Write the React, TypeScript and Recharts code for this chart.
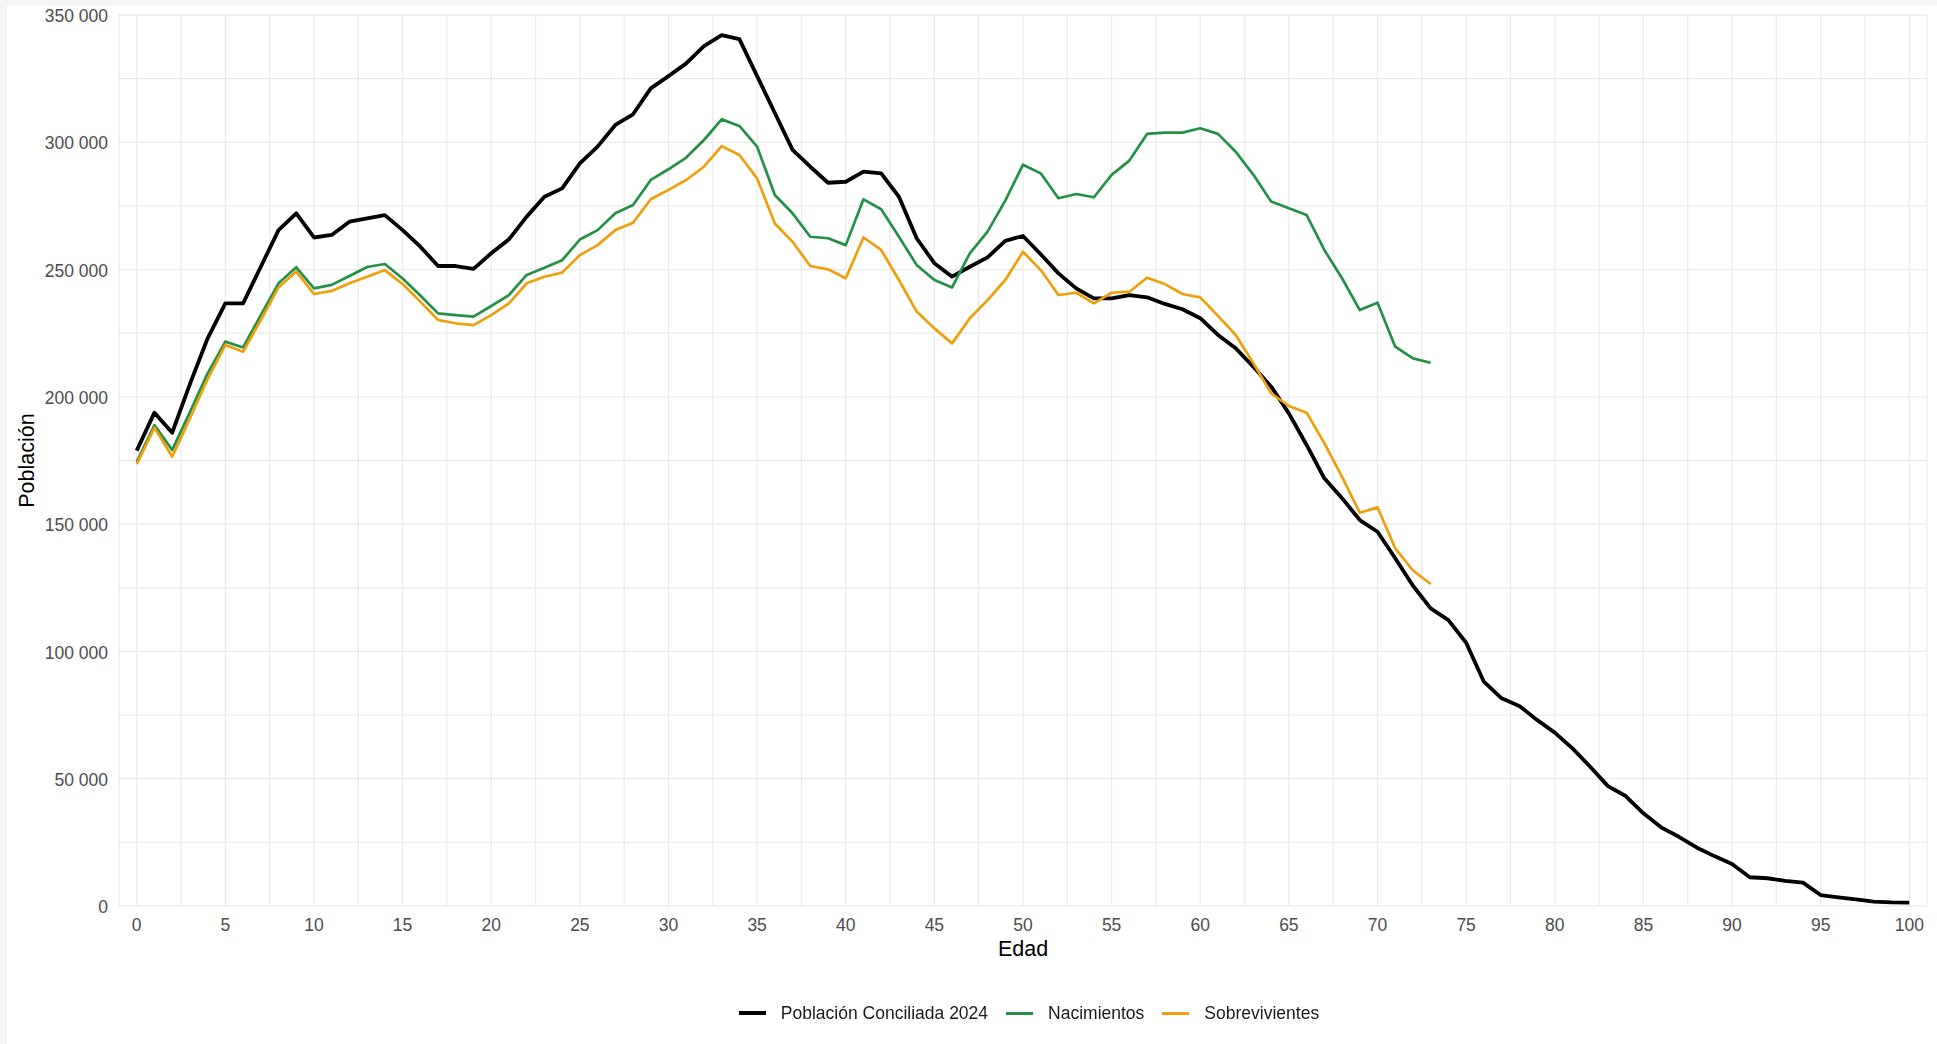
import React from 'react';
import { LineChart, Line, XAxis, YAxis, CartesianGrid } from 'recharts';

// Edades simples 0..100
const EDADES = Array.from({ length: 101 }, (_, i) => i);

const POBLACION = [
  178900, 193800, 185900, 205000, 223000, 236700, 236700, 251100, 265500, 272100,
  262600, 263600, 268800, 270100, 271400, 265500, 259000, 251400, 251400, 250300,
  256400, 261900, 270800, 278600, 281900, 291700, 298300, 306800, 311000, 321200,
  326000, 331000, 337800, 342100, 340500, 326000, 311500, 297000, 290400, 284100,
  284500, 288500, 287800, 278600, 262300, 252500, 247200, 251100, 254800, 261300,
  263200, 256000, 248500, 242600, 238700, 238700, 240000, 239100, 236500, 234400,
  230900, 224300, 219100, 211800, 204000, 193500, 181100, 168000, 160200, 151600,
  147000, 136600, 125800, 116900, 112300, 103400, 88100, 81600, 78600, 73100,
  68100, 61900, 54700, 47100, 43200, 36400, 30900, 27200, 23000, 19600,
  16500, 11300, 10900, 9900, 9200, 4300, 3400, 2600, 1700, 1400,
  1300,
];

const NACIMIENTOS = [
  174500, 188900, 179100, 194000, 209200, 221700, 219400, 232100, 244600, 250900,
  242600, 244000, 247500, 251000, 252200, 246500, 239800, 232800, 232100, 231500,
  235700, 240000, 247900, 250700, 253700, 261800, 265500, 272100, 275400, 285200,
  289400, 294000, 300900, 309000, 306400, 298300, 279300, 272100, 262900, 262300,
  259600, 277600, 273700, 262900, 251800, 245900, 243000, 256400, 264900, 277100,
  291200, 287800, 278000, 279700, 278400, 287200, 292800, 303300, 303800, 303800,
  305500, 303300, 296300, 287200, 276700, 274100, 271400, 257700, 246600, 234100,
  237000, 219700, 215100, 213400,
];

const SOBREVIVIENTES = [
  173600, 187900, 176500, 191500, 207000, 220400, 217700, 230200, 243000, 249200,
  240400, 241600, 244600, 247200, 249800, 244300, 237400, 230200, 228900, 228200,
  232100, 236700, 244600, 247200, 248800, 255700, 259600, 265500, 268400, 277600,
  281300, 285200, 290400, 298500, 295000, 285800, 268100, 260900, 251400, 250100,
  246600, 262600, 257700, 245900, 233500, 226900, 221000, 230900, 238000, 245900,
  257000, 249800, 240000, 240900, 236700, 240900, 241300, 246800, 244300, 240400,
  239100, 231800, 224300, 213200, 201400, 196400, 193800, 181800, 168600, 154500,
  156600, 140500, 131800, 126500,
];

const X_TICKS = Array.from({ length: 41 }, (_, i) => i * 2.5);
const Y_TICKS = Array.from({ length: 15 }, (_, i) => i * 25000);

const SERIES = [
  { key: 'poblacion', name: 'Población Conciliada 2024', color: '#000000', width: 3.8 },
  { key: 'nacimientos', name: 'Nacimientos', color: '#239145', width: 2.7 },
  { key: 'sobrevivientes', name: 'Sobrevivientes', color: '#EF9F0C', width: 2.7 },
];

const data = EDADES.map((edad, i) => ({
  edad,
  poblacion: POBLACION[i],
  nacimientos: NACIMIENTOS[i],
  sobrevivientes: SOBREVIVIENTES[i],
}));

const FONT = '"Liberation Sans", Arial, sans-serif';

const miles = (v: number) => String(v).replace(/\B(?=(\d{3})+(?!\d))/g, ' ');

const YLabel = (props: any) => {
  const vb = props.viewBox || { x: 0, y: 10, width: 112, height: 891 };
  const cx = 20;
  const cy = vb.y + vb.height / 2;
  return (
    <text
      x={cx}
      y={cy}
      transform={`rotate(-90, ${cx}, ${cy})`}
      textAnchor="middle"
      dominantBaseline="central"
      fill="#000"
      fontSize={21.5}
      fontFamily={FONT}
    >
      Población
    </text>
  );
};

const XLabel = (props: any) => {
  const vb = props.viewBox || { x: 112, y: 901, width: 1808, height: 72 };
  return (
    <text
      x={vb.x + vb.width / 2}
      y={vb.y + 43}
      textAnchor="middle"
      dominantBaseline="central"
      fill="#000"
      fontSize={21.5}
      fontFamily={FONT}
    >
      Edad
    </text>
  );
};

export default function App() {
  return (
    <div style={{ position: 'fixed', left: 0, top: 0, width: 1937, height: 1044, background: '#f4f4f4', fontFamily: FONT }}>
      <div style={{ position: 'absolute', left: 7, top: 5, width: 1930, height: 1039, background: '#ffffff' }}>
        <LineChart width={1930} height={973} data={data} margin={{ top: 10, right: 10, left: 0, bottom: 0 }}>
          <CartesianGrid stroke="#ebebeb" strokeWidth={1.3} />
          <XAxis
            dataKey="edad"
            type="number"
            domain={[-1, 101]}
            ticks={X_TICKS}
            interval={0}
            allowDataOverflow
            tickLine={false}
            axisLine={false}
            tickMargin={7}
            height={72}
            tick={{ fill: '#4d4d4d', fontSize: 17.5, fontFamily: FONT }}
            tickFormatter={(v: number) => (v % 5 === 0 ? String(v) : '')}
            label={<XLabel />}
          />
          <YAxis
            type="number"
            domain={[0, 350000]}
            ticks={Y_TICKS}
            interval={0}
            allowDataOverflow
            tickLine={false}
            axisLine={false}
            tickMargin={5}
            width={112}
            tick={{ fill: '#4d4d4d', fontSize: 17.5, fontFamily: FONT, dy: 1 }}
            tickFormatter={(v: number) => (v % 50000 === 0 ? miles(v) : '')}
            label={<YLabel />}
          />
          {SERIES.map((s) => (
            <Line
              key={s.key}
              type="linear"
              dataKey={s.key}
              name={s.name}
              stroke={s.color}
              strokeWidth={s.width}
              strokeLinejoin="round"
              dot={false}
              activeDot={false}
              isAnimationActive={false}
            />
          ))}
        </LineChart>
        {/* leyenda inferior centrada sobre el panel */}
        <div
          style={{
            position: 'absolute',
            left: 0,
            top: 975,
            width: 1930,
            height: 66,
            boxSizing: 'border-box',
            paddingLeft: 114,
            display: 'flex',
            alignItems: 'center',
            justifyContent: 'center',
            fontSize: 17.5,
            color: '#1a1a1a',
          }}
        >
          {SERIES.map((s, i) => (
            <div key={s.key} style={{ display: 'flex', alignItems: 'center', marginRight: i < SERIES.length - 1 ? 18 : 0 }}>
              <div style={{ width: 27, height: s.key === 'poblacion' ? 4 : 3, background: s.color, marginRight: 15 }} />
              <span>{s.name}</span>
            </div>
          ))}
        </div>
      </div>
    </div>
  );
}
